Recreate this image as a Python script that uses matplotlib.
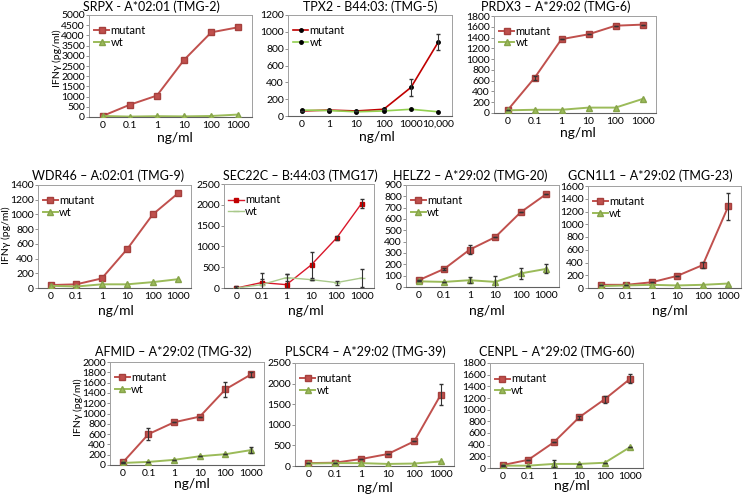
import matplotlib
matplotlib.use('Agg')
import matplotlib.pyplot as plt

plt.rcParams['font.family'] = ['Lato', 'DejaVu Sans']

W, H = 746, 496

# ---- data ----
conc = ['0', '0.1', '1', '10', '100', '1000']
conc_tpx2 = ['0', '1', '10', '100', '1000', '10,000']

srpx_mut = [50, 600, 1050, 2800, 4150, 4400]
srpx_wt = [50, 20, 40, 30, 50, 120]

tpx2_mut = [60, 70, 60, 80, 340, 880]
tpx2_mut_err = [0, 0, 0, 0, 100, 100]
tpx2_wt = [70, 65, 50, 60, 80, 50]

prdx3_mut = [50, 650, 1370, 1460, 1620, 1640]
prdx3_mut_err = [0, 40, 0, 0, 0, 0]
prdx3_wt = [50, 60, 60, 100, 100, 260]

wdr46_mut = [40, 50, 130, 530, 1000, 1290]
wdr46_wt = [30, 20, 50, 50, 80, 120]

sec22c_mut = [0, 130, 80, 560, 1200, 2030]
sec22c_mut_err = [0, 220, 250, 310, 50, 100]
sec22c_wt = [0, 80, 250, 200, 130, 240]
sec22c_wt_err = [60, 130, 90, 0, 50, 210]

helz2_mut = [60, 160, 330, 440, 660, 820]
helz2_mut_err = [0, 10, 40, 0, 0, 0]
helz2_wt = [50, 45, 60, 45, 120, 160]
helz2_wt_err = [0, 0, 25, 50, 50, 40]

gcn1l1_mut = [50, 50, 90, 190, 360, 1280]
gcn1l1_mut_err = [0, 0, 0, 0, 50, 210]
gcn1l1_wt = [30, 40, 50, 40, 50, 70]

afmid_mut = [50, 600, 830, 940, 1470, 1760]
afmid_mut_err = [0, 110, 0, 0, 150, 50]
afmid_wt = [40, 60, 100, 170, 210, 290]
afmid_wt_err = [0, 0, 0, 0, 0, 50]

plscr4_mut = [70, 80, 170, 290, 600, 1730]
plscr4_mut_err = [0, 0, 0, 0, 0, 250]
plscr4_wt = [60, 70, 70, 50, 60, 110]

cenpl_mut = [50, 140, 440, 870, 1180, 1530]
cenpl_mut_err = [0, 0, 0, 30, 60, 80]
cenpl_wt = [40, 40, 70, 70, 90, 360]
cenpl_wt_err = [0, 0, 60, 0, 0, 0]

# ---- layout: (title, cats, data..., box l,t,r,b px, title x,y, xlabel x,y, ymax, ystep, style) ----
panels = [
    ('SRPX - A*02:01 (TMG-2)', conc, srpx_mut, None, srpx_wt, None,
     (89, 15, 252, 117), (151, 7), (175, 138), 5000, 500, 'excel'),
    ('TPX2 - B44:03: (TMG-5)', conc_tpx2, tpx2_mut, tpx2_mut_err, tpx2_wt, None,
     (288, 15, 452, 116), (370, 7), (377, 137), 1200, 200, 'dots'),
    ('PRDX3 \u2013 A*29:02 (TMG-6)', conc, prdx3_mut, prdx3_mut_err, prdx3_wt, None,
     (494, 16, 656, 113), (556, 7), (578, 133), 1800, 200, 'excel'),
    ('WDR46 \u2013 A:02:01 (TMG-9)', conc, wdr46_mut, None, wdr46_wt, None,
     (38, 185, 191, 288), (108, 176), (116, 311), 1400, 200, 'excel'),
    ('SEC22C \u2013 B:44:03 (TMG17)', conc, sec22c_mut, sec22c_mut_err, sec22c_wt, sec22c_wt_err,
     (224, 184, 374, 288), (300, 176), (306, 311), 2500, 500, 'thin'),
    ('HELZ2 \u2013 A*29:02 (TMG-20)', conc, helz2_mut, helz2_mut_err, helz2_wt, helz2_wt_err,
     (406, 185, 559, 287), (470, 176), (487, 311), 900, 100, 'excel'),
    ('GCN1L1 \u2013 A*29:02 (TMG-23)', conc, gcn1l1_mut, gcn1l1_mut_err, gcn1l1_wt, None,
     (588, 186, 741, 288), (650, 176), (670, 311), 1600, 200, 'excel'),
    ('AFMID \u2013 A*29:02 (TMG-32)', conc, afmid_mut, afmid_mut_err, afmid_wt, afmid_wt_err,
     (110, 362, 264, 465), (173, 352), (192, 484), 2000, 200, 'excel'),
    ('PLSCR4 \u2013 A*29:02 (TMG-39)', conc, plscr4_mut, plscr4_mut_err, plscr4_wt, None,
     (295, 363, 454, 466), (365, 352), (375, 488), 2500, 500, 'excel'),
    ('CENPL \u2013 A*29:02 (TMG-60)', conc, cenpl_mut, cenpl_mut_err, cenpl_wt, cenpl_wt_err,
     (490, 363, 643, 468), (557, 352), (572, 486), 1800, 200, 'excel'),
]

ylabels = [(57, 58), (6, 235), (78, 407)]

styles = {
    'excel': dict(mut=dict(color='#c0504d', lw=1.4, marker='s', ms=4, mfc='#c0504d', mec='#a5403d'),
                  wt=dict(color='#9bbb59', lw=1.4, marker='^', ms=4, mfc='#9bbb59', mec='#86a34a')),
    'dots': dict(mut=dict(color='#c00000', lw=1.2, marker='o', ms=2.5, mfc='black', mec='black'),
                 wt=dict(color='#92d050', lw=1.2, marker='o', ms=2.5, mfc='black', mec='black')),
    'thin': dict(mut=dict(color='#d9182b', lw=1.0, marker='s', ms=2.5, mfc='#c00000', mec='#c00000'),
                 wt=dict(color='#a9c98b', lw=1.0, marker='_', ms=5, mfc='#a9c98b', mec='#a9c98b')),
}

fig = plt.figure(figsize=(W / 100, H / 100), dpi=100)

for (title, cats, mut, mut_err, wt, wt_err, box, txy, xlxy, ymax, ystep, st) in panels:
    l, t, r, b = box
    ax = fig.add_axes([l / W, 1 - b / H, (r - l) / W, (b - t) / H])
    x = list(range(len(cats)))
    s = styles[st]
    ax.plot(x, mut, label='mutant', zorder=3, **s['mut'])
    ax.plot(x, wt, label='wt', zorder=3, **s['wt'])
    if mut_err is not None:
        ax.errorbar(x, mut, yerr=mut_err, fmt='none', ecolor='#333333', elinewidth=0.8, capsize=1.5, zorder=4)
    if wt_err is not None:
        ax.errorbar(x, wt, yerr=wt_err, fmt='none', ecolor='#333333', elinewidth=0.8, capsize=1.5, zorder=4)
    ax.set_xlim(-0.5, len(cats) - 0.5)
    ax.set_ylim(0, ymax)
    ax.set_yticks(range(0, ymax + 1, ystep))
    ax.set_xticks(x)
    ax.set_xticklabels(cats)
    ax.tick_params(axis='y', labelsize=7.5, length=2, width=0.6, pad=1, color='#808080')
    ax.tick_params(axis='x', labelsize=7.5, length=0, pad=3)
    for side in ['top', 'right', 'left']:
        ax.spines[side].set_color('#a0a0a0')
        ax.spines[side].set_linewidth(0.7)
    ax.spines['bottom'].set_color('#606060')
    ax.spines['bottom'].set_linewidth(0.8)
    ax.legend(loc='upper left', bbox_to_anchor=(0.03, 0.9), frameon=False, fontsize=8,
              handlelength=1.4, handletextpad=0.1, labelspacing=0.05, borderpad=0, borderaxespad=0)
    fig.text(txy[0] / W, 1 - txy[1] / H, title, ha='center', va='center', fontsize=9)
    fig.text(xlxy[0] / W, 1 - xlxy[1] / H, 'ng/ml', ha='center', va='center', fontsize=10)

for (yx, yy) in ylabels:
    fig.text(yx / W, 1 - yy / H, 'IFN\u03b3 (pg/ml)', ha='center', va='center', rotation=90, fontsize=7.5)

fig.savefig('out.png', dpi=100)
